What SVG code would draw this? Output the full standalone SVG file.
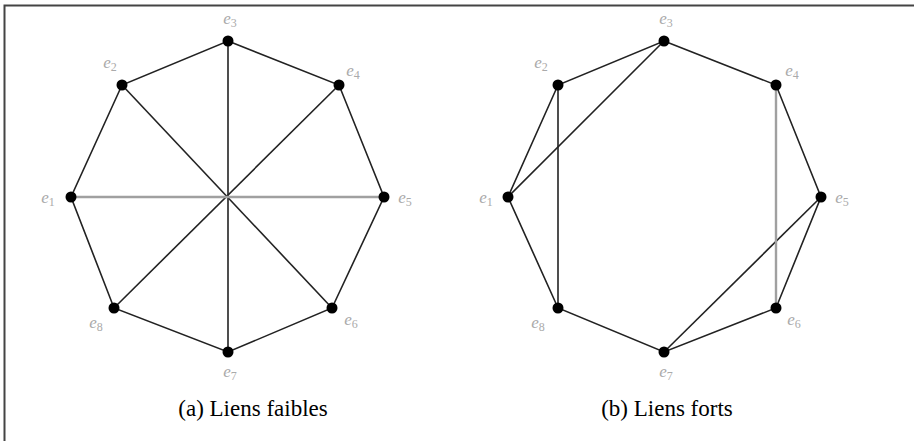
<svg xmlns="http://www.w3.org/2000/svg" width="914" height="441" viewBox="0 0 914 441">
<style>
.e{stroke:#222;stroke-width:1.6;fill:none}
.g{stroke:#a0a0a0;stroke-width:2.4;fill:none}
.n{fill:#000}
.l{font-family:'Liberation Serif','Times New Roman',serif;font-style:italic;font-size:17px;fill:#aaa;text-anchor:middle}
.s{font-size:12px;font-style:normal}
.c{font-family:'Liberation Serif','Times New Roman',serif;font-size:23px;fill:#000;text-anchor:middle}
</style>
<rect width="914" height="441" fill="#fff"/>
<path d="M4.5 441V5.5H914" stroke="#444" stroke-width="2" fill="none"/>
<g id="connectors">
<g id="edges-a">
<polygon class="e" points="228,41 339,85 384,197 332,308 228,352 114,308 71,197 122,85"/>
<line class="e" x1="228" y1="41" x2="228" y2="352"/>
<line class="e" x1="122" y1="85" x2="332" y2="308"/>
<line class="e" x1="339" y1="85" x2="114" y2="308"/>
<line class="g" x1="71" y1="197" x2="384" y2="197"/>
</g>
<g id="edges-b">
<polygon class="e" points="664,41 776,85 821,197 776,308 664,352 558,308 508,197 558,85"/>
<line class="e" x1="664" y1="41" x2="508" y2="197"/>
<line class="e" x1="558" y1="85" x2="558" y2="308"/>
<line class="e" x1="821" y1="197" x2="664" y2="352"/>
<line class="g" x1="776" y1="85" x2="776" y2="308"/>
</g>
</g>
<g id="graph-a">
<g id="a-e1"><circle class="n" cx="71" cy="197" r="5.5"/><text class="l" x="48" y="203" font-family="Liberation Serif, serif">e<tspan class="s" dy="3">1</tspan></text></g>
<g id="a-e2"><circle class="n" cx="122" cy="85" r="5.5"/><text class="l" x="110" y="68" font-family="Liberation Serif, serif">e<tspan class="s" dy="3">2</tspan></text></g>
<g id="a-e3"><circle class="n" cx="228" cy="41" r="5.5"/><text class="l" x="230" y="24" font-family="Liberation Serif, serif">e<tspan class="s" dy="3">3</tspan></text></g>
<g id="a-e4"><circle class="n" cx="339" cy="85" r="5.5"/><text class="l" x="353" y="76" font-family="Liberation Serif, serif">e<tspan class="s" dy="3">4</tspan></text></g>
<g id="a-e5"><circle class="n" cx="384" cy="197" r="5.5"/><text class="l" x="405" y="203" font-family="Liberation Serif, serif">e<tspan class="s" dy="3">5</tspan></text></g>
<g id="a-e6"><circle class="n" cx="332" cy="308" r="5.5"/><text class="l" x="351" y="325" font-family="Liberation Serif, serif">e<tspan class="s" dy="3">6</tspan></text></g>
<g id="a-e7"><circle class="n" cx="228" cy="352" r="5.5"/><text class="l" x="230" y="377" font-family="Liberation Serif, serif">e<tspan class="s" dy="3">7</tspan></text></g>
<g id="a-e8"><circle class="n" cx="114" cy="308" r="5.5"/><text class="l" x="96" y="328" font-family="Liberation Serif, serif">e<tspan class="s" dy="3">8</tspan></text></g>
<text class="c" x="253" y="416" font-family="Liberation Serif, serif">(a) Liens faibles</text>
</g>
<g id="graph-b">
<g id="b-e1"><circle class="n" cx="508" cy="197" r="5.5"/><text class="l" x="486" y="203" font-family="Liberation Serif, serif">e<tspan class="s" dy="3">1</tspan></text></g>
<g id="b-e2"><circle class="n" cx="558" cy="85" r="5.5"/><text class="l" x="541" y="68" font-family="Liberation Serif, serif">e<tspan class="s" dy="3">2</tspan></text></g>
<g id="b-e3"><circle class="n" cx="664" cy="41" r="5.5"/><text class="l" x="666" y="24" font-family="Liberation Serif, serif">e<tspan class="s" dy="3">3</tspan></text></g>
<g id="b-e4"><circle class="n" cx="776" cy="85" r="5.5"/><text class="l" x="792" y="76" font-family="Liberation Serif, serif">e<tspan class="s" dy="3">4</tspan></text></g>
<g id="b-e5"><circle class="n" cx="821" cy="197" r="5.5"/><text class="l" x="842" y="203" font-family="Liberation Serif, serif">e<tspan class="s" dy="3">5</tspan></text></g>
<g id="b-e6"><circle class="n" cx="776" cy="308" r="5.5"/><text class="l" x="794" y="325" font-family="Liberation Serif, serif">e<tspan class="s" dy="3">6</tspan></text></g>
<g id="b-e7"><circle class="n" cx="664" cy="352" r="5.5"/><text class="l" x="666" y="377" font-family="Liberation Serif, serif">e<tspan class="s" dy="3">7</tspan></text></g>
<g id="b-e8"><circle class="n" cx="558" cy="308" r="5.5"/><text class="l" x="538" y="328" font-family="Liberation Serif, serif">e<tspan class="s" dy="3">8</tspan></text></g>
<text class="c" x="667" y="416" font-family="Liberation Serif, serif">(b) Liens forts</text>
</g>
</svg>
